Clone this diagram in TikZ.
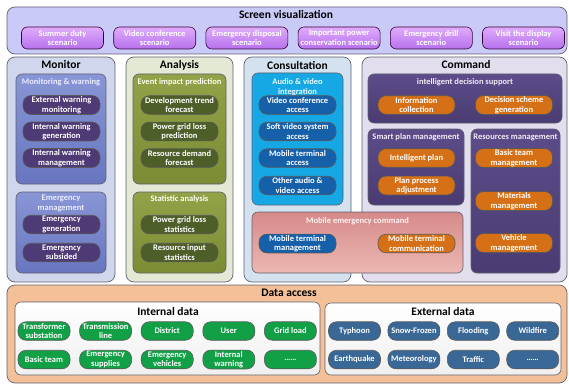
\documentclass[tikz,border=0pt]{standalone}
\usepackage{fontspec}
\setmainfont{Carlito}
\usetikzlibrary{positioning}
\definecolor{scrfill}{RGB}{202,202,248}
\definecolor{scentop}{RGB}{224,172,252}
\definecolor{scenbot}{RGB}{182,112,236}
\definecolor{monfill}{RGB}{208,214,236}
\definecolor{mongrptop}{RGB}{136,150,214}
\definecolor{mongrpbot}{RGB}{104,118,192}
\definecolor{monitem}{RGB}{78,58,116}
\definecolor{anafill}{RGB}{228,233,214}
\definecolor{anagrptop}{RGB}{146,162,72}
\definecolor{anagrpbot}{RGB}{122,140,52}
\definecolor{anaitem}{RGB}{78,94,40}
\definecolor{confill}{RGB}{212,226,240}
\definecolor{congrp}{RGB}{22,168,228}
\definecolor{conitem}{RGB}{22,96,170}
\definecolor{mobtop}{RGB}{214,138,138}
\definecolor{mobbot}{RGB}{236,184,178}
\definecolor{cmdfill}{RGB}{226,222,238}
\definecolor{cmdgrptop}{RGB}{92,76,138}
\definecolor{cmdgrpbot}{RGB}{74,60,114}
\definecolor{cmditem}{RGB}{214,112,22}
\definecolor{datafill}{RGB}{243,192,152}
\definecolor{initem}{RGB}{18,160,70}
\definecolor{exitem}{RGB}{58,104,150}
\definecolor{edge}{RGB}{96,96,110}
\newcommand{\boxfont}{\fontsize{8.5}{9.5}\selectfont\bfseries}
\newcommand{\headfont}{\fontsize{11.5}{12}\selectfont\bfseries}

\begin{document}
\begin{tikzpicture}[x=1pt, y=-1pt,
    panel/.style={draw=edge, rounded corners=8pt, line width=0.7pt, inner sep=0pt},
    group/.style={draw=edge, rounded corners=6pt, line width=0.6pt, inner sep=0pt},
    head/.style={font=\headfont, text=black},
    gtitle/.style={font=\boxfont, align=center},
    item/.style={draw=black!65, rounded corners=8pt, line width=0.6pt, align=center,
                 font=\boxfont, text=white, minimum width=77pt, minimum height=18.5pt, inner sep=1pt},
    scen/.style={item, rounded corners=6pt, top color=scentop, bottom color=scenbot,
                 draw=black!60!violet, minimum width=82pt, minimum height=22pt},
    dbox/.style={item, minimum width=52pt}]
\useasboundingbox (0,0) rectangle (569,385);

% screen visualization
\node[panel, fill=scrfill, minimum width=560pt, minimum height=47pt] (scr) at (287,30.5) {};
\node[head] (tscr) at (286,15) {Screen visualization};
\node[scen] (s1) at (62.5,38) {Summer duty\\scenario};
\node[scen, right=9.6pt of s1] (s2) {Video conference\\scenario};
\node[scen, right=9.6pt of s2] (s3) {Emergency disposal\\scenario};
\node[scen, right=9.6pt of s3] (s4) {Important power\\conservation scenario};
\node[scen, right=9.6pt of s4] (s5) {Emergency drill\\scenario};
\node[scen, right=9.6pt of s5] (s6) {Visit the display\\scenario};

% columns
\node[panel, fill=monfill, minimum width=108pt, minimum height=225pt] (mon) at (61,169.5) {};
\node[panel, fill=anafill, minimum width=107pt, minimum height=225pt] (ana) at (179.5,169.5) {};
\node[panel, fill=confill, minimum width=107pt, minimum height=225pt] (con) at (297.5,169.5) {};
\node[panel, fill=cmdfill, minimum width=205pt, minimum height=225pt] (cmd) at (464.5,169.5) {};
\node[head] (tmon) at (61,65) {Monitor};
\node[head] (tana) at (179.5,65) {Analysis};
\node[head] (tcon) at (297.5,65) {Consultation};
\node[head] (tcmd) at (466,65) {Command};

% monitor
\node[group, top color=mongrptop, bottom color=mongrpbot, minimum width=90pt, minimum height=110pt] (mw) at (61,129) {};
\node[group, top color=mongrptop, bottom color=mongrpbot, minimum width=90pt, minimum height=81pt] (em) at (61,232.5) {};
\node[gtitle, text=blue!8] (tmw) at (61,82) {Monitoring \& warning};
\node[gtitle, text=blue!8] (tem) at (61,203.5) {Emergency\\management};
\node[item, fill=monitem] (m1) at (61.5,105) {External warning\\monitoring};
\node[item, fill=monitem] (m2) at (61.5,131.5) {Internal warning\\generation};
\node[item, fill=monitem] (m3) at (61.5,158) {Internal warning\\management};
\node[item, fill=monitem] (m4) at (61.5,224.5) {Emergency\\generation};
\node[item, fill=monitem] (m5) at (61.5,252.5) {Emergency\\subsided};

% analysis
\node[group, top color=anagrptop, bottom color=anagrpbot, minimum width=93pt, minimum height=110pt] (eip) at (179.5,129) {};
\node[group, top color=anagrptop, bottom color=anagrpbot, minimum width=93pt, minimum height=81pt] (sta) at (179.5,232.5) {};
\node[gtitle, text=yellow!5] (teip) at (179.5,82) {Event impact prediction};
\node[gtitle, text=yellow!5] (tsta) at (179.5,199) {Statistic analysis};
\node[item, fill=anaitem] (a1) at (179.5,105) {Development trend\\forecast};
\node[item, fill=anaitem] (a2) at (179.5,131.5) {Power grid loss\\prediction};
\node[item, fill=anaitem] (a3) at (179.5,158) {Resource demand\\forecast};
\node[item, fill=anaitem] (a4) at (179.5,224.5) {Power grid loss\\statistics};
\node[item, fill=anaitem] (a5) at (179.5,252.5) {Resource input\\statistics};

% consultation
\node[group, fill=congrp, minimum width=91pt, minimum height=132pt] (av) at (297.5,139) {};
\node[gtitle, text=cyan!8] (tav) at (297.5,87) {Audio \& video\\integration};
\node[item, fill=conitem] (c1) at (297.5,105) {Video conference\\access};
\node[item, fill=conitem] (c2) at (297.5,131.5) {Soft video system\\access};
\node[item, fill=conitem] (c3) at (297.5,158) {Mobile terminal\\access};
\node[item, fill=conitem] (c4) at (297.5,185.5) {Other audio \&\\video access};

% command
\node[group, top color=cmdgrptop, bottom color=cmdgrpbot, minimum width=194pt, minimum height=49pt] (ids) at (465,98.5) {};
\node[group, top color=cmdgrptop, bottom color=cmdgrpbot, minimum width=96pt, minimum height=76pt] (spm) at (416,167) {};
\node[group, top color=cmdgrptop, bottom color=cmdgrpbot, minimum width=89pt, minimum height=144pt] (rm) at (515.5,201) {};
\node[gtitle, text=violet!8] (tids) at (465,82) {intelligent decision support};
\node[gtitle, text=violet!8] (tspm) at (416,137) {Smart plan management};
\node[gtitle, text=violet!8] (trm) at (515.5,137) {Resources management};
\node[item, fill=cmditem] (k1) at (416.5,105) {Information\\collection};
\node[item, fill=cmditem] (k2) at (514,105) {Decision scheme\\generation};
\node[item, fill=cmditem] (k3) at (416.5,158) {Intelligent plan};
\node[item, fill=cmditem] (k4) at (416.5,185.5) {Plan process\\adjustment};
\node[item, fill=cmditem] (k5) at (514,158) {Basic team\\management};
\node[item, fill=cmditem] (k6) at (514,201) {Materials\\management};
\node[item, fill=cmditem] (k7) at (514,243) {Vehicle\\management};

% mobile emergency command
\node[group, top color=mobtop, bottom color=mobbot, minimum width=211pt, minimum height=61pt] (mob) at (357.5,242.5) {};
\node[gtitle, text=red!5] (tmob) at (357.5,221) {Mobile emergency command};
\node[item, fill=conitem] (c5) at (297.5,243.5) {Mobile terminal\\management};
\node[item, fill=cmditem] (c6) at (416.5,243.5) {Mobile terminal\\communication};

% data access
\node[panel, fill=datafill, minimum width=560pt, minimum height=98pt] (data) at (287,334) {};
\node[head] (tdata) at (289,293) {Data access};
\node[group, top color=white, bottom color=black!6, minimum width=305pt, minimum height=73pt] (ind) at (167.5,338.5) {};
\node[group, top color=white, bottom color=black!6, minimum width=236pt, minimum height=72pt] (exd) at (443,339) {};
\node[head] (tind) at (168,312) {Internal data};
\node[head] (texd) at (443,312) {External data};
\node[dbox, fill=initem] (i1) at (44,331) {Transformer\\substation};
\node[dbox, fill=initem, right=9pt of i1] (i2) {Transmission\\line};
\node[dbox, fill=initem, right=9pt of i2] (i3) {District};
\node[dbox, fill=initem, right=9pt of i3] (i4) {User};
\node[dbox, fill=initem, right=9pt of i4] (i5) {Grid load};
\node[dbox, fill=initem] (i6) at (44,359.5) {Basic team};
\node[dbox, fill=initem, right=9pt of i6] (i7) {Emergency\\supplies};
\node[dbox, fill=initem, right=9pt of i7] (i8) {Emergency\\vehicles};
\node[dbox, fill=initem, right=9pt of i8] (i9) {Internal\\warning};
\node[dbox, fill=initem, right=9pt of i9] (i10) {……};
\node[dbox, fill=exitem] (e1) at (354.5,331) {Typhoon};
\node[dbox, fill=exitem, right=6.8pt of e1] (e2) {Snow-Frozen};
\node[dbox, fill=exitem, right=6.8pt of e2] (e3) {Flooding};
\node[dbox, fill=exitem, right=6.8pt of e3] (e4) {Wildfire};
\node[dbox, fill=exitem] (e5) at (354.5,359.5) {Earthquake};
\node[dbox, fill=exitem, right=6.8pt of e5] (e6) {Meteorology};
\node[dbox, fill=exitem, right=6.8pt of e6] (e7) {Traffic};
\node[dbox, fill=exitem, right=6.8pt of e7] (e8) {……};
\end{tikzpicture}
\end{document}
